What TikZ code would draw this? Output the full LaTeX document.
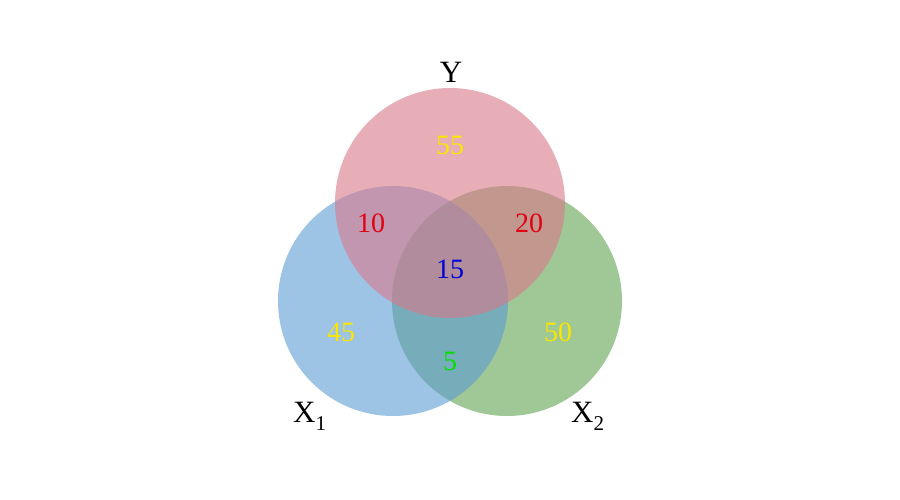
\documentclass[tikz,border=0pt]{standalone}
\usepackage{fontspec}
\setmainfont{Liberation Serif}
\definecolor{cy}{RGB}{217,120,138}
\definecolor{cxa}{RGB}{92,155,213}
\definecolor{cxb}{RGB}{97,163,80}
\definecolor{tyel}{RGB}{250,230,0}
\definecolor{tred}{RGB}{225,0,20}
\definecolor{tblue}{RGB}{0,0,210}
\definecolor{tgreen}{RGB}{0,225,0}
\newcommand{\subn}[1]{\raisebox{-0.28em}{\fontsize{21}{23}\selectfont #1}}
\tikzset{
  setcirc/.style={circle, minimum size=230pt, inner sep=0pt, fill opacity=0.6},
  num/.style={font=\fontsize{28}{30}\selectfont, inner sep=0pt},
  lab/.style={font=\fontsize{31}{34}\selectfont, inner sep=0pt, text=black},
}
\begin{document}
\begin{tikzpicture}[x=1pt,y=-1pt]
\useasboundingbox (0,0) rectangle (900,500);
\fill[white] (0,0) rectangle (900,500);
\node[setcirc, fill=cxb] (x2) at (507,301) {};
\node[setcirc, fill=cxa] (x1) at (393,301) {};
\node[setcirc, fill=cy] (y) at (450,203) {};
\node[num, text=tyel] (n55) at (450,145) {55};
\node[num, text=tred] (n10) at (371,223) {10};
\node[num, text=tred] (n20) at (529,223) {20};
\node[num, text=tblue] (n15) at (450,269) {15};
\node[num, text=tyel] (n45) at (341,332) {45};
\node[num, text=tyel] (n50) at (558,332) {50};
\node[num, text=tgreen] (n5) at (450,361) {5};
\node[lab] (ly) at (451,72) {Y};
\node[lab, anchor=base west] (lx1) at (293,422) {X\subn{1}};
\node[lab, anchor=base west] (lx2) at (571,422) {X\subn{2}};
\end{tikzpicture}
\end{document}
